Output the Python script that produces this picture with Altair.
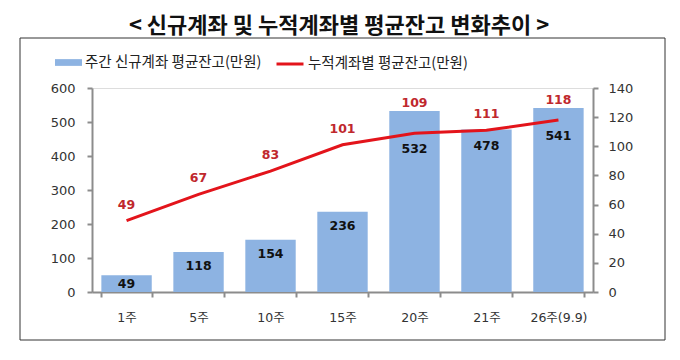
import altair as alt
import pandas as pd

weeks = ["1주", "5주", "10주", "15주", "20주", "21주", "26주(9.9)"]
new_acct_avg = [49, 118, 154, 236, 532, 478, 541]
cum_acct_avg = [49, 67, 83, 101, 109, 111, 118]
left_ticks = [0, 100, 200, 300, 400, 500, 600]
right_ticks = [0, 20, 40, 60, 80, 100, 120, 140]

bar_name = "주간 신규계좌 평균잔고(만원)"
line_name = "누적계좌별 평균잔고(만원)"
title_text = "< 신규계좌 및 누적계좌별 평균잔고 변화추이 >"

df = pd.DataFrame({"week": weeks, "bar": new_acct_avg, "cum": cum_acct_avg})

NUM_FONT = "DejaVu Sans, Noto Sans CJK KR"
KR_FONT = "Noto Sans CJK KR"

x_enc = alt.X(
    "week:N",
    sort=weeks,
    scale=alt.Scale(paddingInner=0.3, paddingOuter=0.13),
    axis=alt.Axis(
        title=None, labelAngle=0, tickBand="extent", domainColor="#8c8c8c",
        domainWidth=2, tickColor="#8c8c8c", tickWidth=2, tickSize=5,
        labelPadding=14, labelFont=NUM_FONT, labelFontSize=12.5, labelColor="#333333",
    ),
)

left_scale = alt.Scale(domain=[0, 600], nice=False, zero=True)
right_scale = alt.Scale(domain=[0, 140], nice=False, zero=True)


def make_axis(orient, values, pad):
    return alt.Axis(
        title=None, orient=orient, values=values, grid=False,
        labelOverlap=False, labelFlush=False,
        domainColor="#8c8c8c", domainWidth=2, tickColor="#8c8c8c", tickWidth=2, tickSize=5,
        labelPadding=pad, labelFont=NUM_FONT, labelFontSize=13, labelColor="#333333",
    )


left_axis = make_axis("left", left_ticks, 12)
right_axis = make_axis("right", right_ticks, 10)

bars = alt.Chart(df).transform_calculate(s1=f"'{bar_name}'").mark_bar(color="#8db3e2").encode(
    x=x_enc,
    y=alt.Y("bar:Q", scale=left_scale, axis=left_axis),
    fill=alt.Fill(
        "s1:N", scale=alt.Scale(range=["#8db3e2"]),
        legend=alt.Legend(
            title=None, orient="none", legendX=-37, legendY=-39,
            symbolType="M-1,-0.25L1,-0.25L1,0.25L-1,0.25Z", symbolSize=729,
            symbolStrokeWidth=0, labelFont=KR_FONT, labelFontSize=14.5, labelColor="#222222",
            labelOffset=3, labelLimit=400,
        ),
    ),
)

bar_labels = alt.Chart(df).transform_calculate(
    pos="min(max(datum.bar/2, datum.bar-42), (datum.cum-11)*600/140)"
).mark_text(font=NUM_FONT, fontSize=12.5, fontWeight="bold", color="#111111", baseline="middle").encode(
    x=alt.X("week:N", sort=weeks),
    y=alt.Y("pos:Q", scale=left_scale, axis=left_axis),
    text=alt.Text("bar:Q"),
)

frame = alt.Chart(alt.Data(values=[{"a": 1}])).mark_rect(
    fillOpacity=0, stroke="#333333", strokeWidth=1
).encode(
    x=alt.value(-72), x2=alt.value(573), y=alt.value(-50), y2=alt.value(252)
)

title = alt.Chart(alt.Data(values=[{"t": title_text}])).mark_text(
    font=KR_FONT, fontSize=22, fontWeight="bold", color="#111111", baseline="middle", align="center"
).encode(
    x=alt.value(247), y=alt.value(-62), text="t:N"
)

line = alt.Chart(df).transform_calculate(s2=f"'{line_name}'").mark_line(strokeWidth=3).encode(
    x=alt.X("week:N", sort=weeks),
    y=alt.Y("cum:Q", scale=right_scale, axis=right_axis),
    stroke=alt.Stroke(
        "s2:N", scale=alt.Scale(range=["#e3141b"]),
        legend=alt.Legend(
            title=None, orient="none", legendX=183, legendY=-39,
            symbolType="stroke", symbolSize=729, symbolStrokeWidth=3,
            labelFont=KR_FONT, labelFontSize=14.5, labelColor="#222222", labelOffset=3,
            labelLimit=400,
        ),
    ),
)

line_labels = alt.Chart(df).transform_calculate(
    lpos="max(datum.cum + 11, datum.bar*140/600 + 5.5)"
).mark_text(font=NUM_FONT, fontSize=12.5, fontWeight="bold", color="#c0282d", baseline="middle").encode(
    x=alt.X("week:N", sort=weeks),
    y=alt.Y("lpos:Q", scale=right_scale, axis=right_axis),
    text=alt.Text("cum:Q"),
)

left = alt.layer(frame, title, bars, bar_labels)
right = alt.layer(line, line_labels)

chart = alt.layer(left, right).resolve_scale(y="independent").properties(
    width=501,
    height=204,
    autosize=alt.AutoSizeParams(type="none"),
    padding={"left": 84, "top": 80, "right": 79, "bottom": 60},
).configure_view(strokeWidth=0).configure(background="white")

chart.save("out.html", embed_options={"renderer": "svg", "actions": False})
